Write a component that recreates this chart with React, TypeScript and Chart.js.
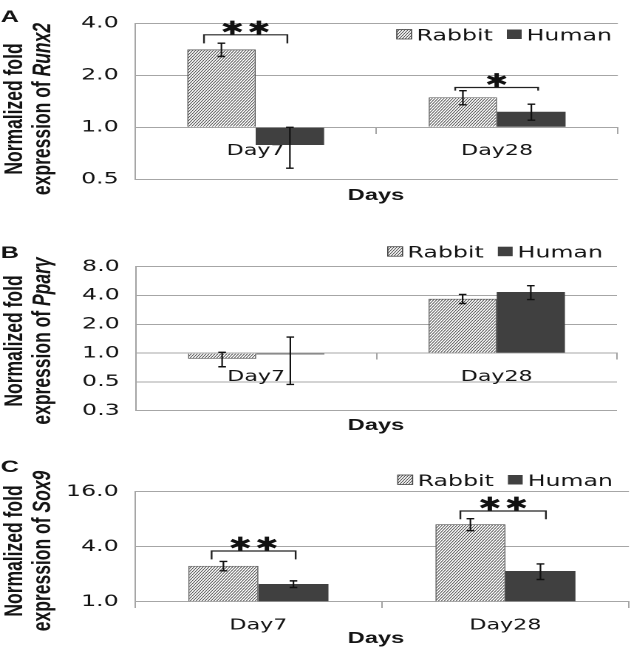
import React, { useEffect, useRef } from "react";
import { Chart, registerables } from "chart.js";
Chart.register(...registerables);

// ---------- data ----------
const categories = ["Day7", "Day28"];
const seriesNames = ["Rabbit", "Human"];

const runx2Rabbit = [2.82, 1.49];
const runx2RabbitErr = [0.25, 0.14];
const runx2Human = [0.79, 1.23];
const runx2HumanErr = [0.21, 0.13];
const runx2Ticks = [0.5, 1, 2, 4];

const pparRabbit = [0.87, 3.7];
const pparRabbitErr = [0.15, 0.4];
const pparHuman = [0.97, 4.35];
const pparHumanErr = [0.5, 0.72];
const pparTicks = [0.25, 0.5, 1, 2, 4, 8];

const sox9Rabbit = [2.47, 7.05];
const sox9RabbitErr = [0.29, 1.05];
const sox9Human = [1.56, 2.17];
const sox9HumanErr = [0.13, 0.42];
const sox9Ticks = [1, 4, 16];

// significance brackets: category index, mark, bracket level, leg end level
const runx2Sig = [
  { cat: 0, mark: "**", level: 3.43, leg: 3.06 },
  { cat: 1, mark: "*", level: 1.7, leg: 1.63 },
];
const pparSig: { cat: number; mark: string; level: number; leg: number }[] = [];
const sox9Sig = [
  { cat: 0, mark: "**", level: 3.59, leg: 2.91 },
  { cat: 1, mark: "**", level: 9.84, leg: 7.98 },
];

// ---------- layout / style ----------
const NARROW_W = 427;
const STRETCH = 631 / NARROW_W;
const TEXT = "#141414";
const HUMAN = "#404040";
const GRID = "#a6a6a6";

interface Panel {
  letter: string;
  gene: string;
  rabbit: number[];
  rabbitErr: number[];
  human: number[];
  humanErr: number[];
  ticks: number[];
  sig: { cat: number; mark: string; level: number; leg: number }[];
  top: number;
  height: number;
  padTop: number;
  padBottom: number;
  padRight: number;
  yWidth: number;
  legendRight: number;
  legendY: number;
  titleY: number;
  letterY: number;
  daysY: number;
  bracketOffsets: number[][];
}

const panels: Panel[] = [
  {
    letter: "A", gene: "Runx2",
    rabbit: runx2Rabbit, rabbitErr: runx2RabbitErr, human: runx2Human, humanErr: runx2HumanErr,
    ticks: runx2Ticks, sig: runx2Sig,
    top: 0, height: 212, padTop: 23.3, padBottom: 32.7, padRight: 8.9, yWidth: 91.3,
    legendRight: 414.1, legendY: 34.5, titleY: 109, letterY: 22, daysY: 200,
    bracketOffsets: [[-11.8, -1.7], [-5.2, 4.6]],
  },
  {
    letter: "B", gene: "Ppar\u03b3",
    rabbit: pparRabbit, rabbitErr: pparRabbitErr, human: pparHuman, humanErr: pparHumanErr,
    ticks: pparTicks, sig: pparSig,
    top: 212, height: 222, padTop: 54.7, padBottom: 23.3, padRight: 9.5, yWidth: 92,
    legendRight: 408, legendY: 39.7, titleY: 129, letterY: 46, daysY: 218,
    bracketOffsets: [],
  },
  {
    letter: "C", gene: "Sox9",
    rabbit: sox9Rabbit, rabbitErr: sox9RabbitErr, human: sox9Human, humanErr: sox9HumanErr,
    ticks: sox9Ticks, sig: sox9Sig,
    top: 434, height: 219, padTop: 57.7, padBottom: 51.3, padRight: 1.4, yWidth: 91.3,
    legendRight: 414.8, legendY: 46, titleY: 117, letterY: 38, daysY: 209,
    bracketOffsets: [[-8, 1.5], [-6.8, 3.7]],
  },
];

function makeHatch(): CanvasPattern | string {
  const c = document.createElement("canvas");
  c.width = 4;
  c.height = 6;
  const g = c.getContext("2d");
  if (!g) return "#bbbbbb";
  g.fillStyle = "#ffffff";
  g.fillRect(0, 0, 4, 6);
  g.strokeStyle = "#3a3a3a";
  g.lineWidth = 1.2;
  for (const dx of [-4, 0, 4]) {
    g.beginPath();
    g.moveTo(dx, 6);
    g.lineTo(dx + 4, 0);
    g.stroke();
  }
  const p = g.createPattern(c, "repeat");
  if (!p) return "#bbbbbb";
  p.setTransform(new DOMMatrix([0.5, 0, 0, 0.5, 0, 0]));
  return p;
}

function drawStar(ctx: CanvasRenderingContext2D, cx: number, cy: number) {
  ctx.font = 'bold 19px "DejaVu Sans"';
  const g = "\u2731";
  const m = ctx.measureText(g);
  const w = m.actualBoundingBoxRight + m.actualBoundingBoxLeft;
  ctx.textAlign = "left";
  ctx.textBaseline = "alphabetic";
  ctx.fillText(
    g,
    cx - w / 2 + m.actualBoundingBoxLeft,
    cy + (m.actualBoundingBoxAscent - m.actualBoundingBoxDescent) / 2
  );
}

function decorPlugin(p: Panel) {
  return {
    id: "decor" + p.letter,
    afterDatasetsDraw(chart: any) {
      const ctx = chart.ctx as CanvasRenderingContext2D;
      const y = chart.scales.y;
      ctx.save();
      ctx.strokeStyle = "#111";
      chart.data.datasets.forEach((ds: any, di: number) => {
        const meta = chart.getDatasetMeta(di);
        meta.data.forEach((bar: any, i: number) => {
          const v = ds.data[i];
          const e = ds.errors[i];
          const yt = y.getPixelForValue(v + e);
          const yb = y.getPixelForValue(v - e);
          ctx.lineWidth = 1.1;
          ctx.beginPath();
          ctx.moveTo(bar.x, yt);
          ctx.lineTo(bar.x, yb);
          ctx.stroke();
          ctx.lineWidth = 1.4;
          ctx.beginPath();
          ctx.moveTo(bar.x - 2.6, yt);
          ctx.lineTo(bar.x + 2.6, yt);
          ctx.moveTo(bar.x - 2.6, yb);
          ctx.lineTo(bar.x + 2.6, yb);
          ctx.stroke();
        });
      });
      p.sig.forEach((s, k) => {
        const r = chart.getDatasetMeta(0).data[s.cat];
        const h = chart.getDatasetMeta(1).data[s.cat];
        const off = p.bracketOffsets[k] || [0, 0];
        const x1 = r.x + off[0];
        const x2 = h.x + off[1];
        const yb = y.getPixelForValue(s.level);
        const yl = y.getPixelForValue(s.leg);
        ctx.lineWidth = 1.2;
        ctx.strokeStyle = "#222";
        ctx.beginPath();
        ctx.moveTo(x1, yl);
        ctx.lineTo(x1, yb);
        ctx.lineTo(x2, yb);
        ctx.lineTo(x2, yl);
        ctx.stroke();
        ctx.fillStyle = "#111";
        const n = s.mark.length;
        const step = 18;
        const cx = (x1 + x2) / 2;
        const cy = yb - 7.5;
        for (let j = 0; j < n; j++) {
          drawStar(ctx, cx + (j - (n - 1) / 2) * step, cy);
        }
      });
      ctx.restore();
    },
    afterDraw(chart: any) {
      const ctx = chart.ctx as CanvasRenderingContext2D;
      ctx.save();
      ctx.fillStyle = TEXT;
      // panel letter
      ctx.font = 'bold 17px "Liberation Sans"';
      ctx.textAlign = "left";
      ctx.textBaseline = "alphabetic";
      ctx.fillText(p.letter, 0.5, p.letterY);
      // x title
      ctx.font = 'bold 16px "Liberation Sans"';
      ctx.textAlign = "center";
      ctx.fillText("Days", 254.4, p.daysY);
      // y title (rotated, two lines)
      ctx.save();
      ctx.translate(14.9, p.titleY);
      ctx.rotate(-Math.PI / 2);
      ctx.textAlign = "center";
      ctx.font = 'bold 17.5px "Liberation Sans"';
      ctx.fillText("Normalized fold", 0, 0);
      const part1 = "expression of ";
      ctx.font = 'bold 17.5px "Liberation Sans"';
      const w1 = ctx.measureText(part1).width;
      ctx.font = 'italic bold 17.5px "Liberation Sans"';
      const w2 = ctx.measureText(p.gene).width;
      const start = -(w1 + w2) / 2;
      ctx.textAlign = "left";
      ctx.font = 'bold 17.5px "Liberation Sans"';
      ctx.fillText(part1, start, 18.9);
      ctx.font = 'italic bold 17.5px "Liberation Sans"';
      ctx.fillText(p.gene, start + w1, 18.9);
      ctx.restore();
      // legend
      ctx.font = '16px "DejaVu Sans"';
      const box = 10;
      const gapBT = 3.4;
      const gapItems = 9.5;
      const dsets = chart.data.datasets;
      const widths = dsets.map((d: any) => ctx.measureText(d.label).width);
      let total = 0;
      widths.forEach((w: number, i: number) => {
        total += box + gapBT + w + (i < widths.length - 1 ? gapItems : 0);
      });
      let x = p.legendRight - total;
      dsets.forEach((d: any, i: number) => {
        ctx.fillStyle = d.backgroundColor;
        ctx.fillRect(x, p.legendY - box / 2, box, box - 0.5);
        if (i === 0) {
          ctx.strokeStyle = "#444";
          ctx.lineWidth = 0.8;
          ctx.strokeRect(x, p.legendY - box / 2, box, box - 0.5);
        }
        x += box + gapBT;
        ctx.fillStyle = TEXT;
        ctx.textAlign = "left";
        ctx.textBaseline = "alphabetic";
        ctx.fillText(d.label, x, p.legendY + 5.8);
        x += widths[i] + gapItems;
      });
      ctx.restore();
    },
  };
}

function PanelChart({ p }: { p: Panel }) {
  const ref = useRef<HTMLCanvasElement | null>(null);
  useEffect(() => {
    if (!ref.current) return;
    const hatch = makeHatch();
    const chart = new Chart(ref.current, {
      type: "bar",
      data: {
        labels: categories,
        datasets: [
          {
            label: seriesNames[0],
            data: p.rabbit,
            errors: p.rabbitErr,
            base: 1,
            backgroundColor: hatch as any,
            borderColor: "#555555",
            borderWidth: 0.8,
          } as any,
          {
            label: seriesNames[1],
            data: p.human,
            errors: p.humanErr,
            base: 1,
            backgroundColor: HUMAN,
            borderWidth: 0,
          } as any,
        ],
      },
      options: {
        responsive: false,
        animation: false,
        devicePixelRatio: 2,
        datasets: { bar: { categoryPercentage: 0.567, barPercentage: 1 } },
        layout: { padding: { top: p.padTop, bottom: p.padBottom, right: p.padRight, left: 0 } },
        plugins: { legend: { display: false }, tooltip: { enabled: false } },
        scales: {
          x: {
            type: "category",
            position: { y: 1 } as any,
            offset: true,
            grid: { offset: true, drawOnChartArea: false, drawTicks: true, tickLength: 6, color: GRID },
            border: { display: true, color: GRID, width: 1 },
            ticks: { font: { family: "DejaVu Sans", size: 15 }, color: TEXT, padding: 9, maxRotation: 0 },
          },
          y: {
            type: "logarithmic",
            position: "left",
            min: p.ticks[0],
            max: p.ticks[p.ticks.length - 1],
            afterFit: (s: any) => {
              s.width = p.yWidth;
            },
            afterBuildTicks: (s: any) => {
              s.ticks = p.ticks.map((v) => ({ value: v }));
            },
            grid: { color: GRID, drawTicks: false, lineWidth: 1 },
            border: { display: true, color: GRID, width: 1 },
            ticks: {
              font: { family: "DejaVu Sans", size: 16 },
              color: TEXT,
              padding: 11,
              callback: (v: any) => Number(v).toFixed(1),
            },
          },
        },
      } as any,
      plugins: [decorPlugin(p)],
    });
    return () => chart.destroy();
  }, [p]);
  return (
    <canvas
      ref={ref}
      width={NARROW_W}
      height={p.height}
      style={{
        position: "absolute",
        left: 0,
        top: p.top,
        width: NARROW_W + "px",
        height: p.height + "px",
        transform: `scaleX(${STRETCH})`,
        transformOrigin: "0 0",
      }}
    />
  );
}

export default function App() {
  return (
    <div
      style={{
        position: "absolute",
        left: 0,
        top: 0,
        width: 631,
        height: 653,
        background: "#ffffff",
        overflow: "hidden",
      }}
    >
      {panels.map((p) => (
        <PanelChart key={p.letter} p={p} />
      ))}
    </div>
  );
}
